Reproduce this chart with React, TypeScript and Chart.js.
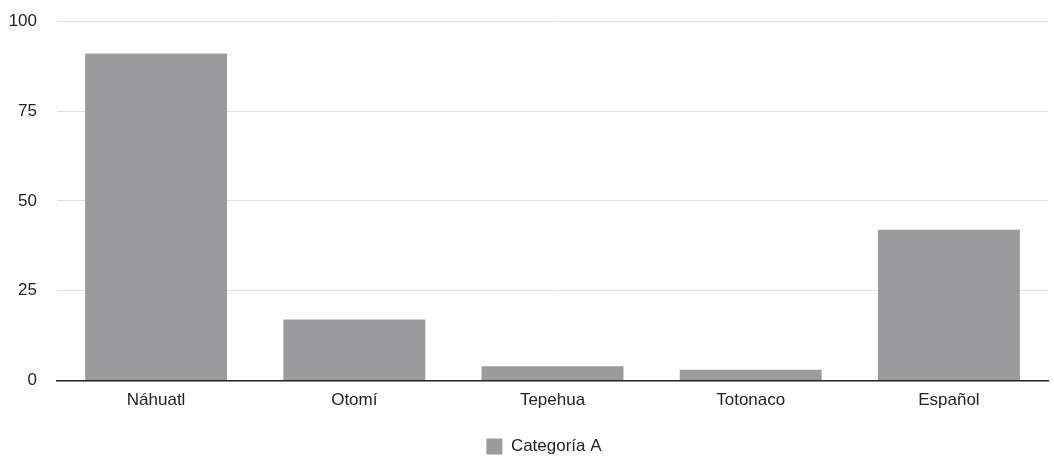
import React, { useEffect, useRef } from "react";
import { Chart, registerables } from "chart.js";

Chart.register(...registerables);

const categories = ["Náhuatl", "Otomí", "Tepehua", "Totonaco", "Español"];
const seriesName = "Categoría A";
const seriesValues = [91, 17, 4, 3, 42];
const yTicks = [0, 25, 50, 75, 100];

const shiftLegend = {
  id: "shiftLegend",
  afterLayout(chart: any) {
    if (chart.legend) {
      chart.legend.left += 15;
      chart.legend.right += 15;
    }
  },
};

export default function App() {
  const ref = useRef<HTMLCanvasElement>(null);
  useEffect(() => {
    if (!ref.current) return;
    const chart = new Chart(ref.current, {
      type: "bar",
      data: {
        labels: categories,
        datasets: [
          {
            label: seriesName,
            data: seriesValues,
            backgroundColor: "#9b9b9d",
            borderWidth: 0,
            categoryPercentage: 1,
            barPercentage: 0.716,
          },
        ],
      },
      plugins: [shiftLegend],
      options: {
        animation: false,
        responsive: false,
        maintainAspectRatio: false,
        layout: { padding: { left: 10, right: 6, top: 0, bottom: 4 } },
        plugins: {
          tooltip: { enabled: false },
          legend: {
            position: "bottom",
            labels: {
              boxWidth: 16,
              boxHeight: 16,
              padding: 12,
              color: "#222",
              font: { family: "Liberation Sans", size: 17 },
            },
          },
        },
        scales: {
          x: {
            grid: { display: false, drawTicks: false },
            border: { display: true, color: "#222", width: 1.5 },
            afterFit: (axis: any) => {
              axis.height += 5;
            },
            ticks: {
              color: "#222",
              padding: 10,
              font: { family: "Liberation Sans", size: 17 },
            },
          },
          y: {
            min: 0,
            max: 100,
            afterBuildTicks: (axis: any) => {
              axis.ticks = yTicks.map((v) => ({ value: v }));
            },
            afterFit: (axis: any) => {
              axis.width = 47;
            },
            grid: {
              color: "#e2e2e2",
              drawTicks: true,
              tickLength: 9,
              tickColor: "rgba(0,0,0,0)",
              lineWidth: 1,
            },
            border: { display: false },
            ticks: {
              color: "#222",
              padding: 11,
              font: { family: "Liberation Sans", size: 17 },
            },
          },
        },
      },
    });
    return () => chart.destroy();
  }, []);
  return (
    <div style={{ position: "fixed", left: 0, top: 0, width: 1054, height: 469, background: "#fff" }}>
      <canvas ref={ref} width={1054} height={469} />
    </div>
  );
}
